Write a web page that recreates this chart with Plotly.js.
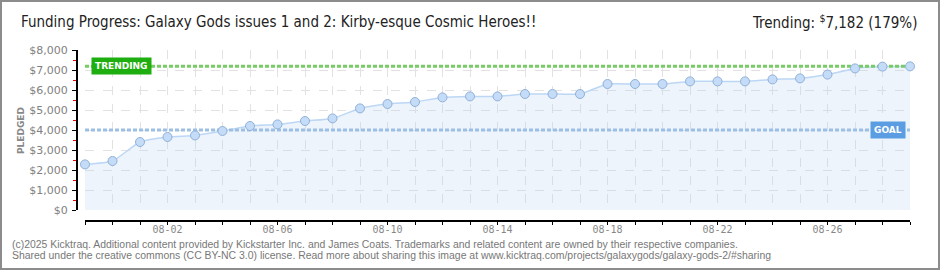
<!DOCTYPE html>
<html>
<head>
<meta charset="utf-8">
<script src="https://cdn.plot.ly/plotly-3.0.1.min.js"></script>
<style>
  html, body { margin: 0; padding: 0; background: #fff; }
  #chart { width: 940px; height: 270px; }
</style>
</head>
<body>
<div id="chart"></div>
<script>
// Daily pledged totals for the campaign
const dates = [
  '2025-07-30', '2025-07-31', '2025-08-01', '2025-08-02', '2025-08-03', '2025-08-04',
  '2025-08-05', '2025-08-06', '2025-08-07', '2025-08-08', '2025-08-09', '2025-08-10',
  '2025-08-11', '2025-08-12', '2025-08-13', '2025-08-14', '2025-08-15', '2025-08-16',
  '2025-08-17', '2025-08-18', '2025-08-19', '2025-08-20', '2025-08-21', '2025-08-22',
  '2025-08-23', '2025-08-24', '2025-08-25', '2025-08-26', '2025-08-27', '2025-08-28',
  '2025-08-29'
];
const pledged = [
  2280, 2450, 3400, 3650, 3730, 3950,
  4200, 4280, 4450, 4580, 5080, 5300,
  5400, 5630, 5680, 5680, 5800, 5800,
  5800, 6300, 6300, 6300, 6430, 6430,
  6430, 6530, 6580, 6770, 7080, 7170,
  7182
];
const goalValue = 4000;
const trendValue = 7182;
const titleText = 'Funding Progress: Galaxy Gods issues 1 and 2: Kirby-esque Cosmic Heroes!!';
const footerLines = [
  '(c)2025 Kicktraq. Additional content provided by Kickstarter Inc. and James Coats. Trademarks and related content are owned by their respective companies.',
  'Shared under the creative commons (CC BY-NC 3.0) license. Read more about sharing this image at www.kicktraq.com/projects/galaxygods/galaxy-gods-2/#sharing'
];

// page geometry helpers (pixel -> paper fraction)
const W = 940, H = 270;
const M = { l: 76, r: 30, t: 50, b: 50 };
const PW = W - M.l - M.r, PH = H - M.t - M.b;
const fx = px => (px - M.l) / PW;
const fy = py => (H - M.b - py) / PH;

const DAY = 86400000;
const first = dates[0], last = dates[dates.length - 1];
const pct = Math.floor(trendValue / goalValue * 100);
const fmt = v => v.toLocaleString('en-US');
const headFont = 'DejaVu Sans Condensed, DejaVu Sans';

const traces = [
  { // filled area under the pledge curve
    x: dates, y: pledged, type: 'scatter', mode: 'lines',
    line: { color: '#bcd7f5', width: 1.5, shape: 'spline', smoothing: 0.5 },
    fill: 'tozeroy', fillcolor: 'rgba(183,211,243,0.25)',
    hoverinfo: 'skip'
  },
  { // goal line
    x: [first, last], y: [goalValue, goalValue], type: 'scatter', mode: 'lines',
    line: { color: '#9dbfe6', width: 3, dash: '4px,2px' }, hoverinfo: 'skip'
  },
  { // trending line
    x: [first, last], y: [trendValue, trendValue], type: 'scatter', mode: 'lines',
    line: { color: '#77cc66', width: 3, dash: '4px,2px' }, hoverinfo: 'skip'
  },
  { // daily points
    x: dates, y: pledged, type: 'scatter', mode: 'markers',
    marker: { size: 9, color: '#c4dcf7', line: { color: '#90b0d8', width: 1 } },
    cliponaxis: false
  }
];

const layout = {
  width: W, height: H,
  margin: M,
  paper_bgcolor: '#fff', plot_bgcolor: 'rgba(0,0,0,0)',
  showlegend: false,
  xaxis: {
    type: 'date',
    domain: [fx(85), 1],
    anchor: 'free', position: 0,
    range: [first, last],
    tick0: '2025-08-02', dtick: 4 * DAY,
    tickformat: '%m-%d',
    ticks: 'outside', ticklen: 3, tickcolor: '#000', tickwidth: 1,
    ticklabelstandoff: -4,
    showline: true, linecolor: '#000', linewidth: 1.5,
    showgrid: true, gridcolor: '#e2e2e2', griddash: 'dash', gridwidth: 1,
    zeroline: false,
    tickfont: { family: 'DejaVu Sans Mono', size: 10, color: '#888' },
    minor: {
      tick0: first, dtick: DAY,
      ticks: 'outside', ticklen: 3, tickcolor: '#000', tickwidth: 1,
      showgrid: true, gridcolor: '#e2e2e2', griddash: 'dash', gridwidth: 1
    }
  },
  yaxis: {
    domain: [fy(210), 1],
    anchor: 'free', position: 0,
    range: [0, 8000],
    dtick: 1000, tickprefix: '$', tickformat: ',d',
    ticks: 'outside', ticklen: 4, tickcolor: '#000', tickwidth: 1,
    ticklabelstandoff: 2,
    showline: true, linecolor: '#000', linewidth: 1.5,
    showgrid: true, gridcolor: '#e2e2e2', griddash: 'dash', gridwidth: 1,
    zeroline: false,
    tickfont: { family: 'DejaVu Sans', size: 11, color: '#808080' },
    minor: {
      dtick: 500, ticks: 'outside', ticklen: 3, tickcolor: '#e00', tickwidth: 1,
      showgrid: false
    }
  },
  annotations: [
    { xref: 'paper', yref: 'paper', x: fx(19), y: fy(22), xanchor: 'left', yanchor: 'middle',
      text: titleText, showarrow: false,
      font: { family: headFont, size: 15, color: '#222' } },
    { xref: 'paper', yref: 'paper', x: fx(919), y: fy(22), xanchor: 'right', yanchor: 'middle',
      text: 'Trending: <sup>$</sup>' + fmt(trendValue) + ' (' + pct + '%)', showarrow: false,
      font: { family: headFont, size: 15, color: '#222' } },
    { xref: 'paper', yref: 'paper', x: fx(21), y: fy(130), xanchor: 'center', yanchor: 'middle',
      text: '<b>PLEDGED</b>', textangle: -90, showarrow: false,
      font: { family: 'DejaVu Sans', size: 9, color: '#888' } },
    { xref: 'paper', yref: 'y', x: fx(121), y: trendValue, xanchor: 'center', yanchor: 'middle',
      text: '<b>TRENDING</b>', showarrow: false, bgcolor: '#1fae10', borderpad: 3,
      font: { family: 'DejaVu Sans', size: 9, color: '#fff' } },
    { xref: 'paper', yref: 'y', x: fx(888), y: goalValue, xanchor: 'center', yanchor: 'middle',
      text: '<b>GOAL</b>', showarrow: false, bgcolor: '#5b9de2', borderpad: 3,
      font: { family: 'DejaVu Sans', size: 9, color: '#fff' } },
    { xref: 'paper', yref: 'paper', x: fx(10), y: fy(244), xanchor: 'left', yanchor: 'middle',
      text: footerLines[0], showarrow: false,
      font: { family: 'Liberation Sans', size: 10.45, color: '#777' } },
    { xref: 'paper', yref: 'paper', x: fx(10), y: fy(256), xanchor: 'left', yanchor: 'middle',
      text: footerLines[1], showarrow: false,
      font: { family: 'Liberation Sans', size: 10.45, color: '#777' } }
  ],
  shapes: [
    { type: 'rect', xref: 'paper', yref: 'paper',
      x0: fx(1), x1: fx(939), y0: fy(269), y1: fy(1),
      line: { color: '#8c8c8c', width: 2 }, fillcolor: 'rgba(0,0,0,0)' }
  ]
};

Plotly.newPlot('chart', traces, layout, { staticPlot: true, displayModeBar: false });
</script>
</body>
</html>
